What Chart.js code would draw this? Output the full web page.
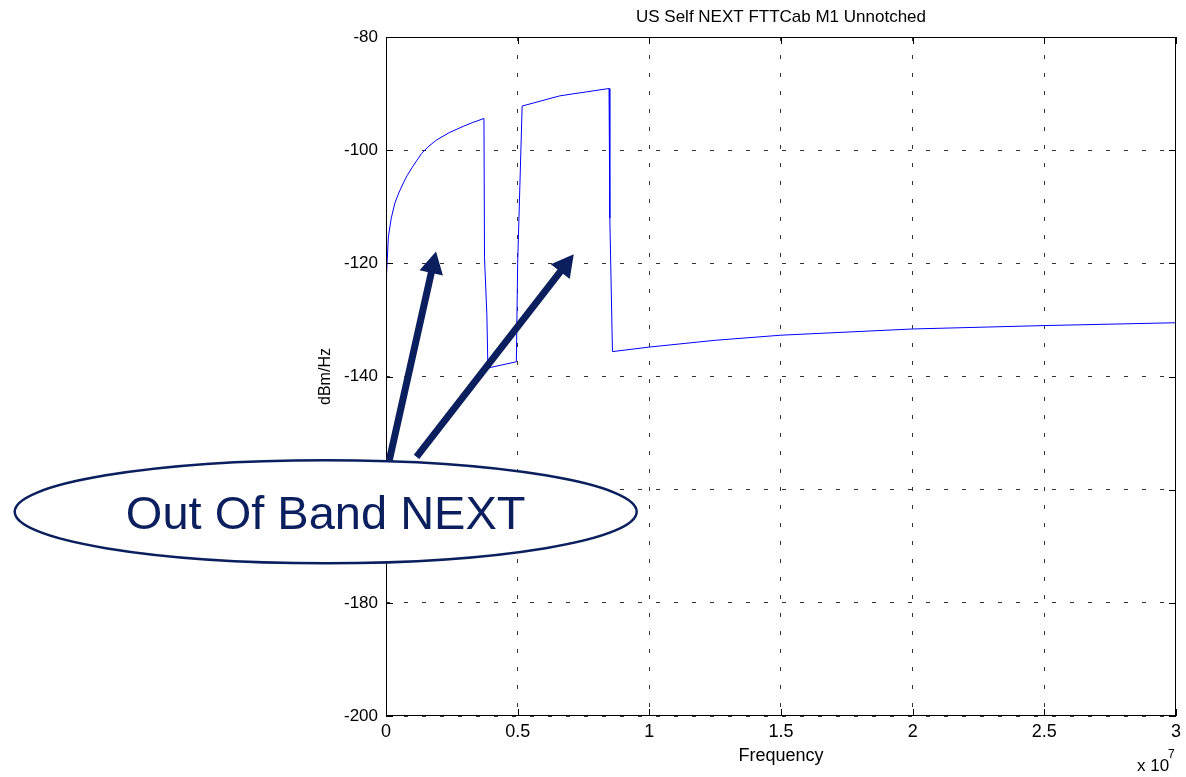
<!DOCTYPE html>
<html>
<head>
<meta charset="utf-8">
<script src="https://cdn.jsdelivr.net/npm/chart.js@4/dist/chart.umd.min.js"></script>
<style>
  html, body { margin: 0; padding: 0; background: #fff; }
  #wrap { width: 1186px; height: 777px; }
</style>
</head>
<body>
<div id="wrap"><canvas id="psd" width="1186" height="777"></canvas></div>
<script>
// frequency (Hz) and PSD (dBm/Hz)
const FREQ = [0, 0.01e6, 0.03e6, 0.09e6, 0.2e6, 0.34e6, 0.5e6, 0.66e6, 0.8e6, 1.0e6, 1.35e6, 1.6e6,
              1.92e6, 2.4e6, 2.93e6, 3.3e6, 3.72e6,
              3.74e6, 3.83e6, 3.87e6, 4.95e6, 5.0e6, 5.17e6, 6.6e6, 8.47e6, 8.5e6, 8.6e6,
              1.0e7, 1.25e7, 1.5e7, 2.0e7, 2.5e7, 3.0e7];
const PSD  = [-189, -135, -122, -115.3, -112, -109.3, -107.4, -105.8, -104.5, -103, -100.6, -99.4,
              -98.2, -96.9, -95.8, -95.1, -94.4,
              -119, -129, -138.5, -137.4, -120, -92.2, -90.4, -89.1, -112, -135.6,
              -134.8, -133.6, -132.7, -131.6, -131.0, -130.5];
const X_TICKS = [0, 0.5e7, 1e7, 1.5e7, 2e7, 2.5e7, 3e7];
const Y_TICKS = [-200, -180, -160, -140, -120, -100, -80];

// callout: arrows (tail -> tip) and ellipse, in data units
const ARROWS = [
  [[0.125e6, -154.8], [1.90e6, -117.9]],
  [[1.16e6, -154.2], [7.13e6, -118.4]],
];
const CALLOUT = { x: -2.29e6, y: -163.9, rx: 11.81e6, ry: 9.1, text: 'Out Of Band NEXT' };

const NAVY = '#0b1f5e';
const FONT = "'Liberation Sans', Arial, sans-serif";

const overlay = {
  id: 'overlay',
  afterDraw(chart) {
    const { ctx, chartArea: a, scales: { x, y } } = chart;
    ctx.save();

    // box
    ctx.strokeStyle = '#000';
    ctx.lineWidth = 1;
    ctx.strokeRect(a.left + 0.5, a.top + 0.5, a.right - a.left - 1, a.bottom - a.top - 1);

    // inward ticks
    ctx.beginPath();
    X_TICKS.forEach(v => {
      const px = Math.round(x.getPixelForValue(v)) + 0.5;
      ctx.moveTo(px, a.bottom); ctx.lineTo(px, a.bottom - 7);
      ctx.moveTo(px, a.top); ctx.lineTo(px, a.top + 7);
    });
    Y_TICKS.forEach(v => {
      const py = Math.round(y.getPixelForValue(v)) + 0.5;
      ctx.moveTo(a.left, py); ctx.lineTo(a.left + 7, py);
      ctx.moveTo(a.right, py); ctx.lineTo(a.right - 7, py);
    });
    ctx.stroke();

    // title
    ctx.fillStyle = '#000';
    ctx.font = '17px ' + FONT;
    ctx.textAlign = 'center';
    ctx.textBaseline = 'middle';
    ctx.fillText('US Self NEXT FTTCab M1 Unnotched', (a.left + a.right) / 2, 17);

    // exponent
    ctx.textAlign = 'left';
    ctx.font = '17px ' + FONT;
    ctx.fillText('x 10', 1137, 766);
    ctx.font = '12px ' + FONT;
    ctx.fillText('7', 1168, 755);

    // arrows
    ctx.strokeStyle = NAVY;
    ctx.fillStyle = NAVY;
    ARROWS.forEach(([t, h]) => {
      const x0 = x.getPixelForValue(t[0]), y0 = y.getPixelForValue(t[1]);
      const x1 = x.getPixelForValue(h[0]), y1 = y.getPixelForValue(h[1]);
      const ang = Math.atan2(y1 - y0, x1 - x0);
      const hl = 22, hw = 12;
      const bx = x1 - hl * Math.cos(ang), by = y1 - hl * Math.sin(ang);
      ctx.lineWidth = 7;
      ctx.lineCap = 'butt';
      ctx.beginPath();
      ctx.moveTo(x0, y0); ctx.lineTo(bx + 2 * Math.cos(ang), by + 2 * Math.sin(ang));
      ctx.stroke();
      ctx.beginPath();
      ctx.moveTo(x1, y1);
      ctx.lineTo(bx + hw * Math.sin(ang), by - hw * Math.cos(ang));
      ctx.lineTo(bx - hw * Math.sin(ang), by + hw * Math.cos(ang));
      ctx.closePath();
      ctx.fill();
    });

    // ellipse callout
    const cx = x.getPixelForValue(CALLOUT.x), cy = y.getPixelForValue(CALLOUT.y);
    const rx = x.getPixelForValue(CALLOUT.x + CALLOUT.rx) - cx;
    const ry = y.getPixelForValue(CALLOUT.y - CALLOUT.ry) - cy;
    ctx.beginPath();
    ctx.ellipse(cx, cy, rx, ry, 0, 0, Math.PI * 2);
    ctx.fillStyle = '#fff';
    ctx.fill();
    ctx.lineWidth = 2.5;
    ctx.strokeStyle = NAVY;
    ctx.stroke();
    ctx.fillStyle = NAVY;
    ctx.font = '47px ' + FONT;
    ctx.textAlign = 'center';
    ctx.textBaseline = 'alphabetic';
    ctx.fillText(CALLOUT.text, cx, cy + 17);

    ctx.restore();
  }
};

new Chart(document.getElementById('psd'), {
  type: 'scatter',
  data: {
    datasets: [{
      data: FREQ.map((f, i) => ({ x: f, y: PSD[i] })),
      showLine: true,
      borderColor: '#0000ff',
      borderWidth: 1,
      pointRadius: 0,
      tension: 0,
    }]
  },
  options: {
    responsive: false,
    animation: false,
    devicePixelRatio: 1,
    layout: { padding: { left: 310, right: 9, top: 37, bottom: 0 } },
    plugins: { legend: { display: false }, tooltip: { enabled: false } },
    scales: {
      x: {
        type: 'linear',
        min: 0,
        max: 3e7,
        afterBuildTicks: s => { s.ticks = X_TICKS.map(v => ({ value: v })); },
        afterFit: s => { s.height = 61; },
        ticks: {
          color: '#000',
          font: { family: FONT, size: 18 },
          padding: 5,
          maxRotation: 0,
          callback: v => String(v / 1e7)
        },
        grid: { color: '#333', drawTicks: false },
        border: { display: false, dash: [4, 14] },
        title: {
          display: true,
          text: 'Frequency',
          color: '#000',
          font: { family: FONT, size: 18 },
          padding: { top: 0, bottom: 10 }
        }
      },
      y: {
        min: -200,
        max: -80,
        afterBuildTicks: s => { s.ticks = Y_TICKS.map(v => ({ value: v })); },
        afterFit: s => { s.width = 76; },
        ticks: {
          color: '#000',
          font: { family: FONT, size: 17 },
          padding: 8
        },
        grid: { color: '#333', drawTicks: false },
        border: { display: false, dash: [4, 14] },
        title: {
          display: true,
          text: 'dBm/Hz',
          color: '#000',
          font: { family: FONT, size: 16 },
          padding: { top: 6, bottom: 0 }
        }
      }
    }
  },
  plugins: [overlay]
});
</script>
</body>
</html>
